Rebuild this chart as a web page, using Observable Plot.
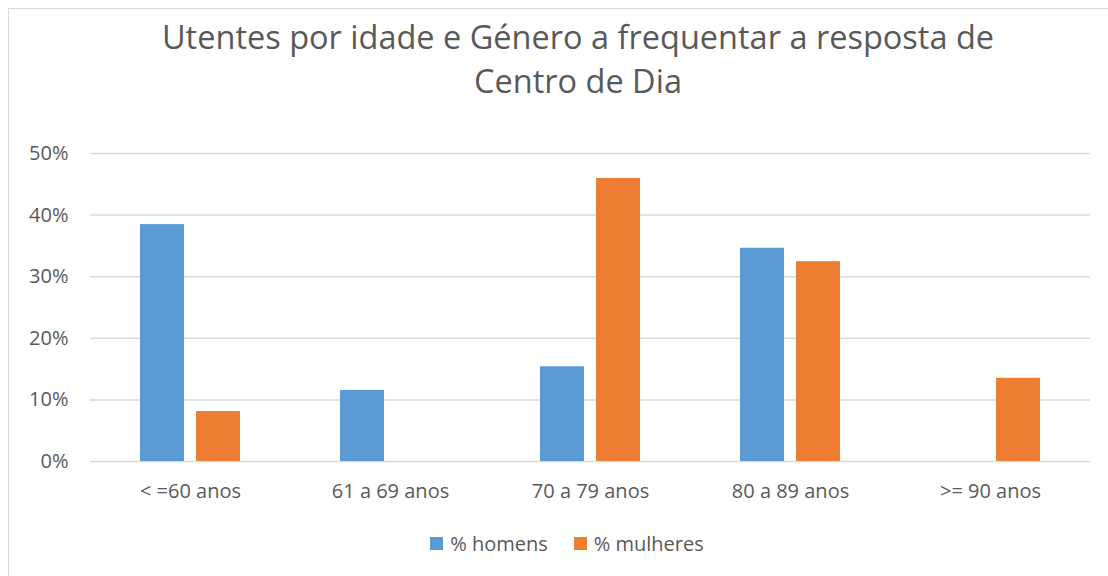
<!DOCTYPE html>
<html>
<head>
<meta charset="utf-8">
<script src="https://cdn.jsdelivr.net/npm/d3@7"></script>
<script src="https://cdn.jsdelivr.net/npm/@observablehq/plot@0.6"></script>
<style>
  html, body { margin: 0; padding: 0; background: #fff; }
  body { width: 1108px; height: 576px; position: relative; overflow: hidden; font-family: "Open Sans", "Liberation Sans", sans-serif; color: #595959; }
  #frame { position: absolute; left: 8px; top: 8px; width: 1200px; height: 700px; border-left: 1.5px solid #d9d9d9; border-top: 1.5px solid #d9d9d9; }
  #title { position: absolute; left: 0; top: 15px; width: 1156px; text-align: center; font-size: 32.5px; line-height: 44px; color: #595959; }
  #chart { position: absolute; left: 0; top: 130px; }
  #chart svg text { font-size: 20px !important; fill: #595959; }
  #legend { position: absolute; left: 0; top: 530px; width: 1108px; display: flex; justify-content: center; padding-left: 26px; box-sizing: border-box; font-size: 20px; color: #595959; }
  .item { display: flex; align-items: center; margin: 0 13px; }
  .sw { width: 13px; height: 13px; margin-right: 7px; }
</style>
</head>
<body>
<div id="frame"></div>
<div id="title">Utentes por idade e Género a frequentar a resposta de<br>Centro de Dia</div>
<div id="chart"></div>
<div id="legend"></div>
<script>
const categories = ["< =60 anos", "61 a 69 anos", "70 a 79 anos", "80 a 89 anos", ">= 90 anos"];
const seriesNames = ["% homens", "% mulheres"];
const homens = [0.3846, 0.1154, 0.1538, 0.3462, 0];
const mulheres = [0.0811, 0, 0.4595, 0.3243, 0.1351];
const colors = ["#5b9bd5", "#ed7d31"];
const yTicks = [0, 0.1, 0.2, 0.3, 0.4, 0.5];

const data = [];
categories.forEach((c, i) => {
  data.push({cat: c, serie: seriesNames[0], value: homens[i]});
  data.push({cat: c, serie: seriesNames[1], value: mulheres[i]});
});

const chart = Plot.plot({
  width: 1108,
  height: 381,
  marginTop: 23,
  marginBottom: 50,
  marginLeft: 90,
  marginRight: 18,
  style: {fontFamily: '"Open Sans", "Liberation Sans", sans-serif', fontSize: "20px", color: "#595959", background: "transparent"},
  fx: {domain: categories, padding: 0, label: null, axis: "bottom", tickSize: 0, tickPadding: 22},
  x: {domain: seriesNames, paddingInner: 0.21, paddingOuter: 0.86, axis: null},
  y: {domain: [0, 0.5], ticks: yTicks, tickFormat: d3.format(".0%"), label: null, tickSize: 0, tickPadding: 22},
  color: {domain: seriesNames, range: colors},
  marks: [
    Plot.gridY(yTicks, {stroke: "#d9d9d9", strokeWidth: 1.5, strokeOpacity: 1}),
    Plot.barY(data, {fx: "cat", x: "serie", y: "value", fill: "serie"})
  ]
});
document.getElementById("chart").appendChild(chart);

const legend = document.getElementById("legend");
seriesNames.forEach((s, i) => {
  const it = document.createElement("div");
  it.className = "item";
  const sw = document.createElement("div");
  sw.className = "sw";
  sw.style.background = colors[i];
  it.appendChild(sw);
  const t = document.createElement("span");
  t.textContent = s;
  it.appendChild(t);
  legend.appendChild(it);
});
</script>
</body>
</html>
